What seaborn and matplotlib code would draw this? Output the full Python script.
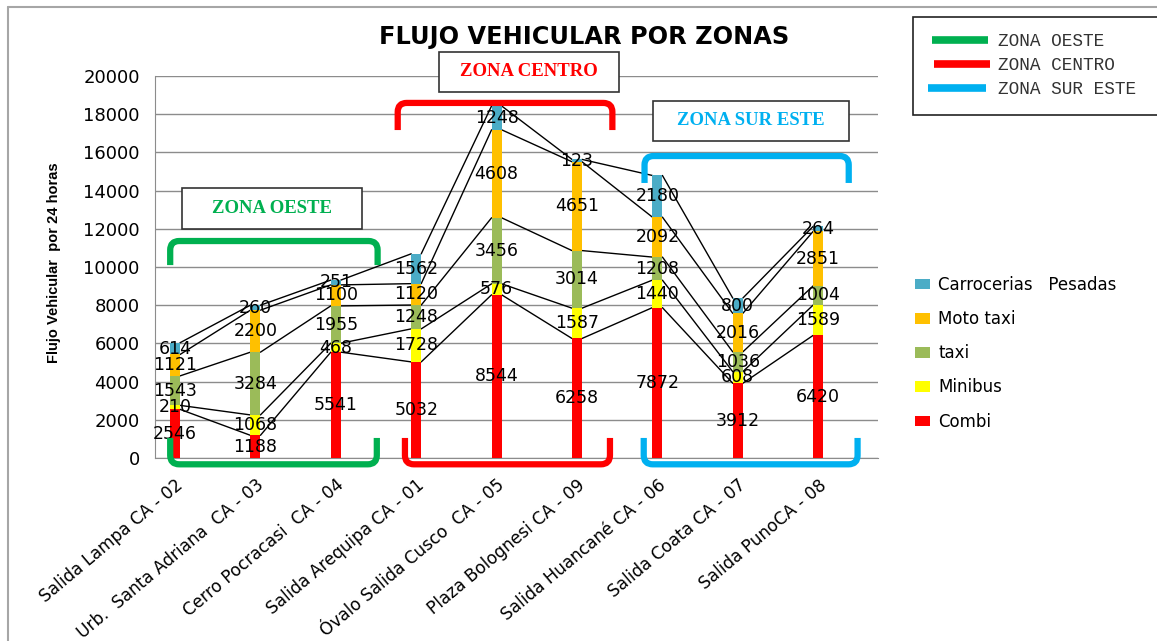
import numpy as np
import matplotlib
matplotlib.use("Agg")
import matplotlib.pyplot as plt
import seaborn as sns
from matplotlib.patches import Patch, Rectangle, PathPatch
from matplotlib.path import Path
from matplotlib.lines import Line2D
from matplotlib.transforms import IdentityTransform

# ---------------- data ----------------
categories = ["Salida Lampa CA - 02", "Urb.  Santa Adriana  CA - 03",
              "Cerro Pocracasi  CA - 04", "Salida Arequipa CA - 01",
              "Óvalo Salida Cusco  CA - 05", "Plaza Bolognesi CA - 09",
              "Salida Huancané CA - 06", "Salida Coata CA - 07",
              "Salida PunoCA - 08"]
combi = [2546, 1188, 5541, 5032, 8544, 6258, 7872, 3912, 6420]
minibus = [210, 1068, 468, 1728, 576, 1587, 1440, 608, 1589]
taxi = [1543, 3284, 1955, 1248, 3456, 3014, 1208, 1036, 1004]
moto_taxi = [1121, 2200, 1100, 1120, 4608, 4651, 2092, 2016, 2851]
carrocerias = [614, 260, 251, 1562, 1248, 123, 2180, 800, 264]
series_names = ["Combi", "Minibus", "taxi", "Moto taxi", "Carrocerias   Pesadas"]
series_values = [combi, minibus, taxi, moto_taxi, carrocerias]
series_colors = ["#FF0000", "#FFFF00", "#9BBB59", "#FFC000", "#4BACC6"]
zone_names = ["ZONA OESTE", "ZONA CENTRO", "ZONA SUR ESTE"]
zone_colors = ["#00B050", "#FF0000", "#00B0F0"]

sns.set_style("white")
plt.rcParams["font.family"] = ["DejaVu Sans"]
plt.rcParams["text.color"] = "black"
plt.rcParams["xtick.color"] = "black"
plt.rcParams["ytick.color"] = "black"
plt.rcParams["axes.labelcolor"] = "black"

W, H = 1157, 641
fig = plt.figure(figsize=(W / 100, H / 100), dpi=100)
ax = fig.add_axes([155 / W, 1 - 458 / H, (878 - 155) / W, 382 / H])

bar_w = 0.125
bottom = np.zeros(len(categories))
tops = []
for name, vals, col in zip(series_names, series_values, series_colors):
    vals = np.array(vals, dtype=float)
    sns.barplot(x=categories, y=vals, bottom=bottom, color=col, width=bar_w,
                saturation=1, errorbar=None, ax=ax, linewidth=0,
                edgecolor="none", zorder=3)
    for i, v in enumerate(vals):
        ax.text(i, bottom[i] + v / 2, f"{int(v)}", ha="center", va="center",
                fontsize=12.5, color="black", zorder=6)
    bottom = bottom + vals
    tops.append(bottom.copy())

# series lines between adjacent bars
for t in tops:
    for i in range(len(categories) - 1):
        ax.plot([i + bar_w / 2, i + 1 - bar_w / 2], [t[i], t[i + 1]],
                color="black", lw=1, zorder=2.5)

ax.set_xlim(-0.249, 8.744)
ax.set_ylim(0, 20000)
ax.set_yticks(np.arange(0, 20001, 2000))
ax.yaxis.grid(True, color="#8C8C8C", lw=1)
ax.set_axisbelow(True)
for s in ["top", "right"]:
    ax.spines[s].set_visible(False)
for s in ["left", "bottom"]:
    ax.spines[s].set_color("#8C8C8C")
ax.tick_params(axis="y", length=7, color="#8C8C8C", labelcolor="black",
               labelsize=13, pad=4)
ax.tick_params(axis="x", length=0, labelsize=12.2, pad=13, labelcolor="black")
ax.set_xlabel("")
ax.set_ylabel("")
for lab in ax.get_xticklabels():
    lab.set_rotation(40)
    lab.set_ha("right")
    lab.set_va("top")
    lab.set_rotation_mode("anchor")

fig.text(584 / W, 1 - 37 / H, "FLUJO VEHICULAR POR ZONAS", ha="center",
         va="center", fontsize=17.3, fontweight="bold")
fig.text(54 / W, 1 - 263 / H, "Flujo Vehicular  por 24 horas", rotation=90,
         ha="center", va="center", fontsize=10.5, fontweight="bold",
         family=["Liberation Sans", "DejaVu Sans"])

# outer chart border
fig.add_artist(Line2D([8 / W, 1], [1 - 7 / H, 1 - 7 / H], color="#A6A6A6", lw=1.5))
fig.add_artist(Line2D([8 / W, 8 / W], [0, 1 - 7 / H], color="#A6A6A6", lw=1.5))

# zone brackets
def bracket(x0, x1, y_flat, y_end, color):
    p0 = ax.transData.transform((x0, y_end))
    pa = ax.transData.transform((x0, y_flat))
    pb = ax.transData.transform((x1, y_flat))
    p1 = ax.transData.transform((x1, y_end))
    r = 9
    s = np.sign(pa[1] - p0[1])
    verts = [tuple(p0), (pa[0], pa[1] - s * r), tuple(pa), (pa[0] + r, pa[1]),
             (pb[0] - r, pb[1]), tuple(pb), (pb[0], pb[1] - s * r), tuple(p1)]
    codes = [Path.MOVETO, Path.LINETO, Path.CURVE3, Path.CURVE3, Path.LINETO,
             Path.CURVE3, Path.CURVE3, Path.LINETO]
    fig.add_artist(PathPatch(Path(verts, codes), transform=IdentityTransform(),
                             fill=False, edgecolor=color, lw=4.5,
                             capstyle="butt", joinstyle="round", zorder=5))

bracket(-0.06, 2.52, 11360, 10100, zone_colors[0])
bracket(-0.06, 2.51, -330, 1050, zone_colors[0])
bracket(2.77, 5.44, 18590, 17170, zone_colors[1])
bracket(2.86, 5.41, -330, 1050, zone_colors[1])
bracket(5.84, 8.38, 15810, 14400, zone_colors[2])
bracket(5.83, 8.49, -330, 1050, zone_colors[2])

# zone text boxes
def zone_box(x0, x1, y0, y1, text, color):
    ax.add_patch(Rectangle((x0, y0), x1 - x0, y1 - y0, facecolor="white",
                           edgecolor="#333333", lw=1.2, clip_on=False, zorder=7))
    ax.text((x0 + x1) / 2, (y0 + y1) / 2, text, ha="center", va="center",
            fontsize=13.5, fontweight="bold", color=color,
            family=["Liberation Serif", "DejaVu Serif"], zorder=8, clip_on=False)

zone_box(0.087, 2.33, 11990, 14136, zone_names[0], zone_colors[0])
zone_box(3.28, 5.52, 19162, 21257, zone_names[1], zone_colors[1])
zone_box(5.95, 8.38, 16597, 18691, zone_names[2], zone_colors[2])

# zone legend (top right)
fig.add_artist(Rectangle((913 / W, 1 - 115 / H), 260 / W, 98 / H,
                         transform=fig.transFigure, facecolor="white",
                         edgecolor="#222222", lw=1.2))
for k, (yy, x0, x1) in enumerate([(40, 932, 988), (64, 934, 990), (88, 928, 986)]):
    fig.add_artist(Line2D([x0 / W, x1 / W], [1 - yy / H, 1 - yy / H],
                          color=zone_colors[k], lw=5.5, solid_capstyle="butt"))
    fig.text(998 / W, 1 - (yy + 1) / H, zone_names[k], ha="left", va="center",
             fontsize=12.8, color="#333333",
             family=["Liberation Mono", "DejaVu Sans Mono"])

# series legend
handles = [Patch(facecolor=c, edgecolor="none") for c in series_colors[::-1]]
fig.legend(handles, series_names[::-1], loc="upper left",
           bbox_to_anchor=(900 / W, 1 - 261 / H), frameon=False, fontsize=12,
           handlelength=0.9, handleheight=0.6, handletextpad=0.5,
           labelspacing=0.97)

fig.savefig("out.png", dpi=100)
